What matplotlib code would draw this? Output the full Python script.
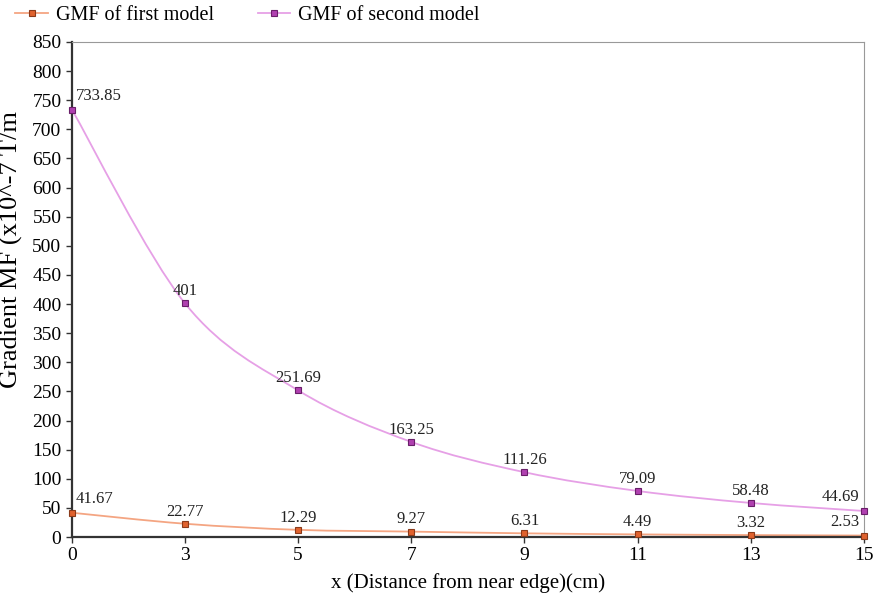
import matplotlib
matplotlib.use("Agg")
import matplotlib.pyplot as plt
from matplotlib.path import Path
from matplotlib.patches import PathPatch
from matplotlib.lines import Line2D

plt.rcParams['font.family'] = ['Liberation Serif', 'DejaVu Serif']

x_labels = ['0', '3', '5', '7', '9', '11', '13', '15']
first_model = [41.67, 22.77, 12.29, 9.27, 6.31, 4.49, 3.32, 2.53]
second_model = [733.85, 401, 251.69, 163.25, 111.26, 79.09, 58.48, 44.69]


def smooth_path(xs, ys, t=1 / 6):
    # Catmull-Rom style bezier through the points
    verts = [(xs[0], ys[0])]
    codes = [Path.MOVETO]
    n = len(xs)
    for i in range(n - 1):
        x0, y0 = (xs[i - 1], ys[i - 1]) if i > 0 else (xs[i], ys[i])
        x1, y1 = xs[i], ys[i]
        x2, y2 = xs[i + 1], ys[i + 1]
        x3, y3 = (xs[i + 2], ys[i + 2]) if i + 2 < n else (x2, y2)
        c1 = (x1 + (x2 - x0) * t, y1 + (y2 - y0) * t)
        c2 = (x2 - (x3 - x1) * t, y2 - (y3 - y1) * t)
        verts += [c1, c2, (x2, y2)]
        codes += [Path.CURVE4] * 3
    return Path(verts, codes)


fig = plt.figure(figsize=(8.77, 5.99), dpi=100)
ax = fig.add_axes([0.082, 0.1035, 0.903, 0.8265])

pos = list(range(len(x_labels)))
series = [
    (first_model, '#f4a582', '#e0622e', '#8a3a1a', 'GMF of first model'),
    (second_model, '#e6a0e6', '#b040b0', '#6a1f6a', 'GMF of second model'),
]
handles = []
for vals, lc, fc, ec, name in series:
    ax.add_patch(PathPatch(smooth_path(pos, vals), fill=False, edgecolor=lc, lw=1.3, zorder=2))
    ax.plot(pos, vals, ls='none', marker='s', ms=5, mfc=fc, mec=ec, mew=0.8, zorder=3, clip_on=False)
    handles.append(Line2D([0], [0], color=lc, lw=1.3, marker='s', ms=5, mfc=fc, mec=ec, mew=0.8))

for vals in (first_model, second_model):
    for i, v in enumerate(vals):
        txt = f'{v:g}'
        if i == 0:
            ax.annotate(txt, (i, v), xytext=(3, 4), textcoords='offset points',
                        ha='left', va='bottom', fontsize=12, color='#222222')
        elif i == len(vals) - 1:
            ax.annotate(txt, (i, v), xytext=(-3, 4), textcoords='offset points',
                        ha='right', va='bottom', fontsize=12, color='#222222')
        else:
            ax.annotate(txt, (i, v), xytext=(0, 3), textcoords='offset points',
                        ha='center', va='bottom', fontsize=12, color='#222222')

ax.set_xlim(0, len(x_labels) - 1)
ax.set_ylim(0, 850)
ax.set_xticks(pos)
ax.set_xticklabels(x_labels)
ax.set_yticks(range(0, 851, 50))
ax.tick_params(labelsize=14, direction='out', length=4, width=1, color='#333333')
for s in ('left', 'bottom'):
    ax.spines[s].set_color('#333333')
    ax.spines[s].set_linewidth(1.6)
for s in ('right', 'top'):
    ax.spines[s].set_color('#999999')
    ax.spines[s].set_linewidth(0.8)

ax.set_xlabel('x (Distance from near edge)(cm)', fontsize=15, labelpad=6)
ax.set_ylabel('Gradient MF (x10^-7 T/m', fontsize=19)
ax.yaxis.set_label_coords(-0.062, 0.58)

fig.legend(handles=handles, labels=[s[4] for s in series], loc='upper left',
           bbox_to_anchor=(-0.003, 1.02), ncol=2, frameon=False, fontsize=14.5,
           handlelength=1.6, columnspacing=2.2, handletextpad=0.4)

fig.savefig('out.png', dpi=100)
